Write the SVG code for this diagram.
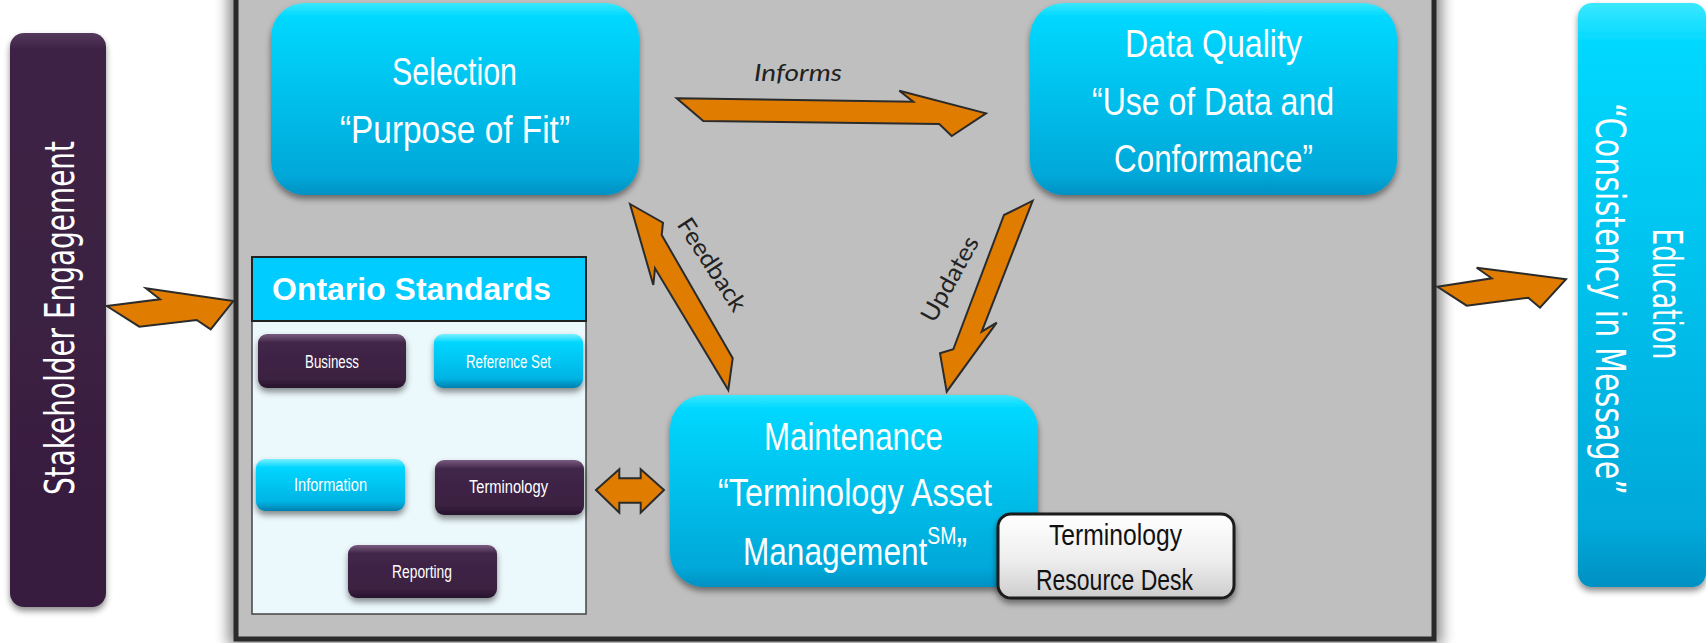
<svg xmlns="http://www.w3.org/2000/svg" width="1706" height="643" viewBox="0 0 1706 643">
<defs>
  <linearGradient id="gCyan" x1="0" y1="0" x2="0" y2="1">
    <stop offset="0" stop-color="#3ae8ff"/>
    <stop offset="0.07" stop-color="#00d8ff"/>
    <stop offset="0.9" stop-color="#00a8d9"/>
    <stop offset="1" stop-color="#0090c2"/>
  </linearGradient>
  <linearGradient id="gBtnCyan" x1="0" y1="0" x2="0" y2="1">
    <stop offset="0" stop-color="#7af0ff"/>
    <stop offset="0.16" stop-color="#00d6ff"/>
    <stop offset="0.82" stop-color="#00b4e4"/>
    <stop offset="1" stop-color="#007fae"/>
  </linearGradient>
  <linearGradient id="gBtnPurple" x1="0" y1="0" x2="0" y2="1">
    <stop offset="0" stop-color="#7a5c80"/>
    <stop offset="0.16" stop-color="#412649"/>
    <stop offset="0.84" stop-color="#3a2041"/>
    <stop offset="1" stop-color="#27132c"/>
  </linearGradient>
  <linearGradient id="gPurple" x1="0" y1="0" x2="0" y2="1">
    <stop offset="0" stop-color="#55385c"/>
    <stop offset="0.03" stop-color="#3d2245"/>
    <stop offset="1" stop-color="#381e3f"/>
  </linearGradient>
  <linearGradient id="gWhite" x1="0" y1="0" x2="0" y2="1">
    <stop offset="0" stop-color="#ffffff"/>
    <stop offset="0.55" stop-color="#eeeeee"/>
    <stop offset="1" stop-color="#cdcdcd"/>
  </linearGradient>
  <filter id="shadow" x="-10%" y="-10%" width="120%" height="135%">
    <feDropShadow dx="0" dy="4" stdDeviation="3" flood-color="#000" flood-opacity="0.45"/>
  </filter>
  <filter id="blur" x="-5%" y="-5%" width="110%" height="110%">
    <feGaussianBlur stdDeviation="7"/>
  </filter>
  <style>
    .arrow { fill:#e07c00; stroke:#2b2b2b; stroke-width:2; stroke-linejoin:miter; }
    .big { font-family:"Liberation Sans", Arial, sans-serif; font-size:39px; fill:#ffffff; }
    .btn { font-family:"Liberation Sans", Arial, sans-serif; font-size:18px; fill:#ffffff; }
    .desk { font-family:"Liberation Sans", Arial, sans-serif; font-size:30px; fill:#111111; }
    .lbl { font-family:"Lato", "Liberation Sans", sans-serif; font-size:24px; fill:#222222; }
    .side { font-family:"DejaVu Sans", Verdana, sans-serif; font-size:41px; fill:#ffffff; }
  </style>
</defs>

<rect width="1706" height="643" fill="#ffffff"/>

<!-- outer frame -->
<g id="frame">
  <rect x="228" y="-20" width="1214" height="666" fill="#000" opacity="0.45" filter="url(#blur)"/>
  <rect x="236" y="-10" width="1198" height="649" fill="#bfbfbf" stroke="#2a2a2a" stroke-width="5"/>
</g>

<g id="stakeholder-engagement">
  <rect x="10" y="33" width="96" height="574" rx="14" fill="url(#gPurple)" filter="url(#shadow)"/>
  <text class="side" transform="translate(74,318) rotate(-90)" text-anchor="middle" textLength="354" lengthAdjust="spacingAndGlyphs">Stakeholder Engagement</text>
</g>

<g id="education">
  <rect x="1578" y="3" width="128" height="584" rx="14" fill="url(#gCyan)" filter="url(#shadow)"/>
  <text class="side" transform="translate(1653,294) rotate(90)" text-anchor="middle" textLength="131" lengthAdjust="spacingAndGlyphs">Education</text>
  <text class="side" transform="translate(1596,299) rotate(90)" text-anchor="middle" textLength="392" lengthAdjust="spacingAndGlyphs">“Consistency in Message”</text>
</g>

<g id="selection">
  <rect x="271" y="3" width="368" height="192" rx="34" fill="url(#gCyan)" filter="url(#shadow)"/>
  <text class="big" x="392" y="85" textLength="125" lengthAdjust="spacingAndGlyphs">Selection</text>
  <text class="big" x="340" y="143" textLength="230" lengthAdjust="spacingAndGlyphs">“Purpose of Fit”</text>
</g>

<g id="data-quality">
  <rect x="1030" y="3" width="367" height="192" rx="34" fill="url(#gCyan)" filter="url(#shadow)"/>
  <text class="big" x="1125" y="57" textLength="177" lengthAdjust="spacingAndGlyphs">Data Quality</text>
  <text class="big" x="1092" y="115" textLength="242" lengthAdjust="spacingAndGlyphs">“Use of Data and</text>
  <text class="big" x="1114" y="172" textLength="199" lengthAdjust="spacingAndGlyphs">Conformance”</text>
</g>

<g id="maintenance">
  <rect x="670" y="395" width="368" height="192" rx="34" fill="url(#gCyan)" filter="url(#shadow)"/>
  <text class="big" x="764" y="450" textLength="179" lengthAdjust="spacingAndGlyphs">Maintenance</text>
  <text class="big" x="718" y="506" textLength="274" lengthAdjust="spacingAndGlyphs">“Terminology Asset</text>
  <text class="big" x="743" y="565" textLength="224" lengthAdjust="spacingAndGlyphs">Management<tspan dy="-21" style="font-size:24px">SM</tspan><tspan dy="21">”</tspan></text>
</g>

<g id="resource-desk">
  <rect x="998" y="514" width="236" height="84" rx="13" fill="url(#gWhite)" stroke="#1a1a1a" stroke-width="3" filter="url(#shadow)"/>
  <text class="desk" x="1049" y="545" textLength="133" lengthAdjust="spacingAndGlyphs">Terminology</text>
  <text class="desk" x="1036" y="590" textLength="157" lengthAdjust="spacingAndGlyphs">Resource Desk</text>
</g>

<g id="ontario-standards">
  <rect x="252" y="321" width="334" height="293" fill="#ecf9fc" stroke="#444444" stroke-width="1.5"/>
  <rect x="252" y="257" width="334" height="64" fill="#00ccff" stroke="#222222" stroke-width="2"/>
  <text x="272" y="300" font-family="'Liberation Sans', Arial, sans-serif" font-weight="bold" font-size="32" fill="#ffffff" textLength="279" lengthAdjust="spacingAndGlyphs">Ontario Standards</text>
  <g id="std-business">
    <rect x="258" y="334" width="148" height="54" rx="9" fill="url(#gBtnPurple)" filter="url(#shadow)"/>
    <text class="btn" x="305" y="368" textLength="54" lengthAdjust="spacingAndGlyphs">Business</text>
  </g>
  <g id="std-reference-set">
    <rect x="434" y="334" width="149" height="54" rx="9" fill="url(#gBtnCyan)" filter="url(#shadow)"/>
    <text class="btn" x="466" y="368" textLength="85" lengthAdjust="spacingAndGlyphs">Reference Set</text>
  </g>
  <g id="std-information">
    <rect x="256" y="459" width="149" height="52" rx="9" fill="url(#gBtnCyan)" filter="url(#shadow)"/>
    <text class="btn" x="294" y="491" textLength="73" lengthAdjust="spacingAndGlyphs">Information</text>
  </g>
  <g id="std-terminology">
    <rect x="435" y="460" width="149" height="55" rx="9" fill="url(#gBtnPurple)" filter="url(#shadow)"/>
    <text class="btn" x="469" y="493" textLength="79" lengthAdjust="spacingAndGlyphs">Terminology</text>
  </g>
  <g id="std-reporting">
    <rect x="348" y="545" width="149" height="53" rx="9" fill="url(#gBtnPurple)" filter="url(#shadow)"/>
    <text class="btn" x="392" y="578" textLength="60" lengthAdjust="spacingAndGlyphs">Reporting</text>
  </g>
</g>

<g id="connectors">
  <polygon class="arrow" points="106.7,306 160,299.3 146,288.3 233.3,301 210.7,329.3 196.7,320 139.3,326.7"/>
  <polygon class="arrow" points="1437.3,286.7 1491.7,278.3 1476.7,267.7 1566,279.3 1540,307.7 1528.3,297.7 1466.7,305.7"/>
  <polygon class="arrow" points="676.7,98.3 913.3,101.7 899.3,90.7 986,113.3 951.7,136 939.3,124 703.3,121"/>
  <polygon class="arrow" points="630,204 663,222.7 661.7,235 732.7,358.3 728.3,390 655,268.3 653.3,285"/>
  <polygon class="arrow" points="1032.7,200.7 981.7,331.7 996.7,322.7 946.7,391.7 940,353.3 953.3,349.3 1004,215"/>
  <polygon class="arrow" points="596,490 619.3,469.3 619.3,478.3 640.7,478.3 640.7,469.3 664,490 640.7,512.7 640.7,502.7 619.3,502.7 619.3,512.7"/>
  <text class="lbl" x="754" y="81" font-style="italic" textLength="88" lengthAdjust="spacingAndGlyphs">Informs</text>
  <text class="lbl" transform="translate(705,269) rotate(57)" text-anchor="middle" textLength="106" lengthAdjust="spacingAndGlyphs">Feedback</text>
  <text class="lbl" transform="translate(957,283) rotate(-61)" text-anchor="middle" textLength="94" lengthAdjust="spacingAndGlyphs">Updates</text>
</g>
</svg>
